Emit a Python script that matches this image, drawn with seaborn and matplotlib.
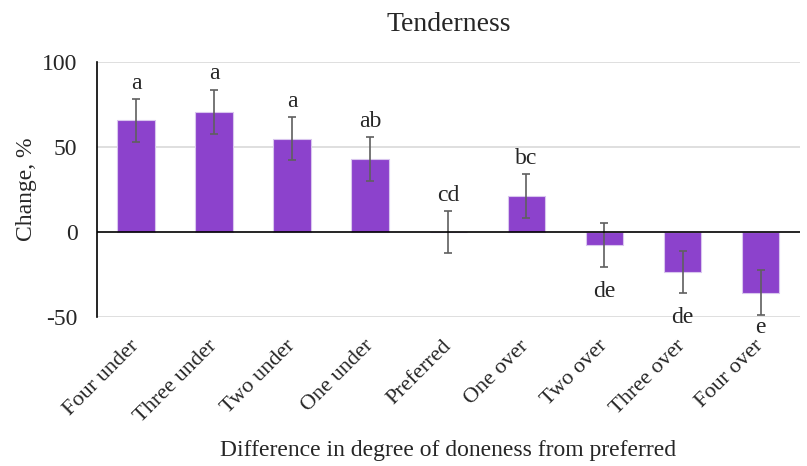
import matplotlib
matplotlib.use("Agg")
import matplotlib.pyplot as plt
import seaborn as sns
import pandas as pd

categories = ["Four under", "Three under", "Two under", "One under", "Preferred",
              "One over", "Two over", "Three over", "Four over"]
change = [65.7, 70.8, 54.9, 42.9, 0.0, 21.0, -7.8, -23.7, -35.7]
error = [12.5, 13.0, 12.8, 13.0, 12.5, 13.0, 13.0, 12.5, 13.0]
letters = ["a", "a", "a", "ab", "cd", "bc", "de", "de", "e"]
yticks = [-50, 0, 50, 100]

sns.set_theme(style="white")
plt.rcParams["font.family"] = ["Liberation Serif", "DejaVu Serif"]

fig = plt.figure(figsize=(8.07, 4.66), dpi=100)
ax = fig.add_axes([0.12, 0.32, 0.871, 0.547])

df = pd.DataFrame({"cat": categories, "val": change})
sns.barplot(data=df, x="cat", y="val", color="#8c42cc", saturation=1,
            width=0.48, edgecolor="#d9c6ee", linewidth=0.8, ax=ax, zorder=2)

xs = list(range(len(categories)))
ax.errorbar(xs, change, yerr=error, fmt="none", ecolor="#5f5f5f",
            elinewidth=1.2, capsize=3, capthick=1.2, zorder=3)

ymin, ymax = -50, 100
for x, v, e, t in zip(xs, change, error, letters):
    if v >= 0:
        ax.text(x, v + e + 3, t, ha="center", va="bottom", fontsize=17)
    else:
        ax.text(x, max(v - e - 8, ymin), t, ha="center", va="top", fontsize=17)

ax.set_ylim(ymin, ymax)
ax.set_xlim(-0.5, len(categories) - 0.5)
ax.set_yticks(yticks)
ax.set_yticklabels([str(t) for t in yticks], fontsize=17)
for t in [100, 50, -50]:
    ax.axhline(t, color="#d9d9d9", linewidth=1.2, zorder=0)
ax.axhline(0, color="black", linewidth=1.2, zorder=4)

for s in ["top", "right", "bottom"]:
    ax.spines[s].set_visible(False)
ax.spines["left"].set_color("black")
ax.spines["left"].set_linewidth(1.2)
ax.tick_params(axis="y", length=0, pad=14)
ax.tick_params(axis="x", length=0, pad=19)
ax.set_xticks(xs)
ax.set_xticklabels(categories, rotation=45, ha="right", va="center",
                   rotation_mode="anchor", fontsize=16)

ax.set_xlabel("Difference in degree of doneness from preferred", fontsize=17, labelpad=10)
ax.set_ylabel("Change, %", fontsize=17, labelpad=3.5)
ax.set_title("Tenderness", fontsize=20, pad=22)

fig.savefig("out.png", dpi=100)
